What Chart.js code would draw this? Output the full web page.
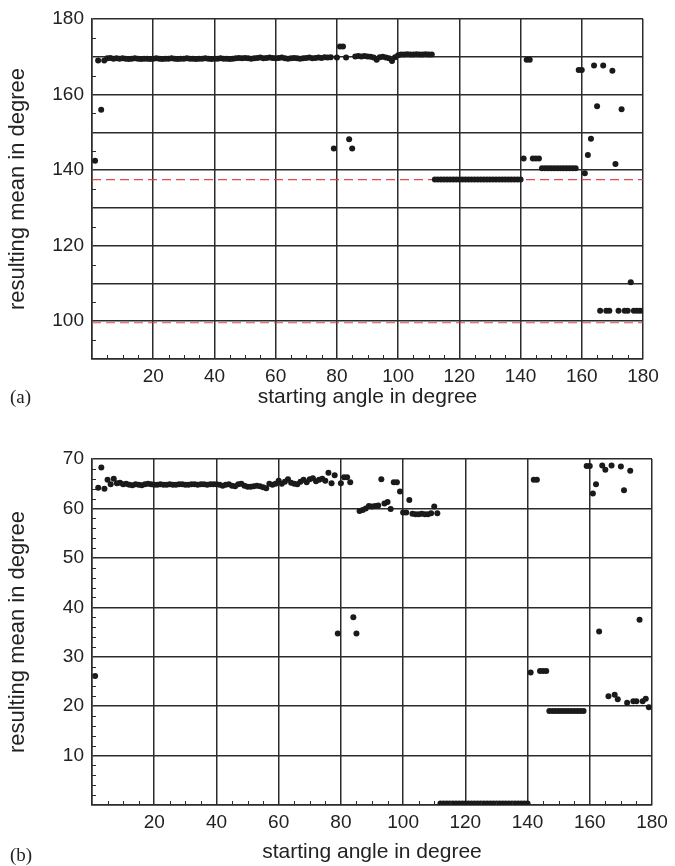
<!DOCTYPE html>
<html>
<head>
<meta charset="utf-8">
<script src="https://cdn.jsdelivr.net/npm/chart.js@4/dist/chart.umd.min.js"></script>
<style>
  body { margin: 0; width: 675px; height: 866px; background: #fff; position: relative; overflow: hidden; }
  .box { position: absolute; left: 0; width: 675px; }
  #boxA { top: 0; height: 415px; }
  #boxB { top: 430px; height: 436px; }
  .tag { position: absolute; left: 10px; font: 19px "Liberation Serif", serif; color: #222; }
</style>
</head>
<body>
<div id="boxA" class="box"><canvas id="chartA"></canvas></div>
<div id="boxB" class="box"><canvas id="chartB"></canvas></div>
<span class="tag" style="top:386px">(a)</span>
<span class="tag" style="top:844px">(b)</span>
<script>
// starting angles (degree)
const angles = [
  1,2,3,4,5,6,7,8,9,10,11,12,13,14,15,16,17,18,19,20,
  21,22,23,24,25,26,27,28,29,30,31,32,33,34,35,36,37,38,39,40,
  41,42,43,44,45,46,47,48,49,50,51,52,53,54,55,56,57,58,59,60,
  61,62,63,64,65,66,67,68,69,70,71,72,73,74,75,76,77,78,79,80,
  81,82,83,84,85,86,87,88,89,90,91,92,93,94,95,96,97,98,99,100,
  101,102,103,104,105,106,107,108,109,110,111,112,113,114,115,116,117,118,119,120,
  121,122,123,124,125,126,127,128,129,130,131,132,133,134,135,136,137,138,139,140,
  141,142,143,144,145,146,147,148,149,150,151,152,153,154,155,156,157,158,159,160,
  161,162,163,164,165,166,167,168,169,170,171,172,173,174,175,176,177,178,179,180
];

// (a) resulting mean
const meanA = [
  142.5,169.0,156.0,169.0,169.6,169.7,169.5,169.6,169.5,169.6,169.5,169.4,169.5,169.6,169.5,169.4,169.5,169.5,169.4,169.5,
  169.6,169.5,169.4,169.5,169.5,169.6,169.5,169.4,169.5,169.5,169.6,169.5,169.5,169.4,169.5,169.5,169.6,169.5,169.4,169.5,
  169.5,169.6,169.5,169.5,169.4,169.5,169.6,169.7,169.6,169.7,169.6,169.5,169.6,169.7,169.8,169.6,169.7,169.8,169.7,169.6,
  169.7,169.8,169.6,169.5,169.6,169.7,169.6,169.5,169.6,169.7,169.8,169.6,169.7,169.8,169.7,169.9,169.8,169.9,145.7,169.8,
  172.7,172.7,169.8,148.2,145.7,170.1,170.2,170.1,170.2,170.1,170.0,169.8,169.2,169.9,170.0,169.8,169.6,168.9,169.9,170.4,
  170.6,170.6,170.7,170.6,170.6,170.7,170.6,170.6,170.7,170.6,170.6,137.5,137.5,137.5,137.5,137.5,137.5,137.5,137.5,137.5,
  137.5,137.5,137.5,137.5,137.5,137.5,137.5,137.5,137.5,137.5,137.5,137.5,137.5,137.5,137.5,137.5,137.5,137.5,137.5,137.5,
  143.1,169.2,169.2,143.1,143.1,143.1,140.5,140.5,140.5,140.5,140.5,140.5,140.5,140.5,140.5,140.5,140.5,140.5,166.5,166.5,
  139.2,144.0,148.3,167.7,156.9,102.8,167.7,102.8,102.8,166.3,141.6,102.8,156.1,102.8,102.8,110.3,102.8,102.8,102.8,102.8
];
const refLinesA = [137.5, 99.6];

// (b) resulting mean
const meanB = [
  26.1,64.2,68.3,64.0,65.8,64.9,66.0,65.1,65.2,64.9,65.0,64.8,64.7,64.9,64.8,64.7,64.9,65.0,64.9,64.8,
  64.8,64.9,64.8,64.8,64.9,64.8,64.8,64.9,64.9,64.8,64.8,64.9,64.9,64.8,64.9,64.9,64.8,64.9,64.9,64.9,
  64.8,64.6,64.8,64.9,64.6,64.5,64.9,65.0,64.6,64.4,64.4,64.5,64.6,64.5,64.3,64.1,65.0,64.8,65.0,65.6,
  65.0,65.4,65.9,65.2,65.0,64.9,65.4,65.8,65.3,65.9,66.1,65.5,65.8,66.0,65.6,67.2,65.1,66.7,34.7,65.1,
  66.3,66.3,65.3,38.0,34.7,59.5,59.7,60.0,60.5,60.4,60.5,60.6,65.9,61.0,61.3,59.9,65.3,65.3,63.4,59.2,
  59.2,61.7,58.9,58.8,58.8,58.9,58.8,58.8,59.0,60.4,59.0,0.3,0.3,0.3,0.3,0.3,0.3,0.3,0.3,0.3,
  0.3,0.3,0.3,0.3,0.3,0.3,0.3,0.3,0.3,0.3,0.3,0.3,0.3,0.3,0.3,0.3,0.3,0.3,0.3,0.3,
  26.8,65.8,65.8,27.1,27.1,27.1,19.0,19.0,19.0,19.0,19.0,19.0,19.0,19.0,19.0,19.0,19.0,19.0,68.6,68.6,
  63.0,64.9,35.1,68.7,67.8,22.0,68.7,22.3,21.4,68.5,63.7,20.7,67.6,21.0,21.0,37.5,21.0,21.5,19.8,null
];

const FONT = "'Liberation Sans', Arial, sans-serif";
const INK = "#222";
const GRID = "#2b2b2b";

function toPoints(xs, ys) {
  const pts = [];
  xs.forEach((x, i) => {
    if (ys[i] !== null && ys[i] !== undefined) pts.push({ x: x, y: ys[i] });
  });
  return pts;
}

// small inward ticks on the left and bottom edges
const minorTicks = {
  id: "minorTicks",
  afterDraw(chart, args, opts) {
    const { ctx, chartArea, scales } = chart;
    const len = 4;
    ctx.save();
    ctx.strokeStyle = GRID;
    ctx.lineWidth = 1;
    ctx.beginPath();
    for (let v = scales.x.min; v <= scales.x.max; v += opts.xStep) {
      if (v % opts.xMajor === 0) continue;
      const px = Math.round(scales.x.getPixelForValue(v)) + 0.5;
      ctx.moveTo(px, chartArea.bottom);
      ctx.lineTo(px, chartArea.bottom - len);
    }
    for (let v = scales.y.min; v <= scales.y.max; v += opts.yStep) {
      if (v % opts.yMajor === 0) continue;
      const py = Math.round(scales.y.getPixelForValue(v)) + 0.5;
      ctx.moveTo(chartArea.left, py);
      ctx.lineTo(chartArea.left + len, py);
    }
    ctx.stroke();
    ctx.restore();
  }
};

function makeChart(id, cfg) {
  const datasets = [{
    data: toPoints(angles, cfg.values),
    pointRadius: 3,
    pointBackgroundColor: "#1a1a1a",
    pointBorderWidth: 0,
    showLine: false,
    order: 0
  }];
  cfg.refLines.forEach(r => {
    datasets.push({
      type: "line",
      data: [{ x: 0, y: r }, { x: 180, y: r }],
      borderColor: "rgba(222,55,55,0.9)",
      borderWidth: 1.2,
      borderDash: [9, 5],
      pointRadius: 0,
      showLine: true,
      order: 1
    });
  });

  return new Chart(document.getElementById(id), {
    type: "scatter",
    data: { datasets: datasets },
    plugins: [minorTicks],
    options: {
      responsive: true,
      maintainAspectRatio: false,
      animation: false,
      events: [],
      layout: { autoPadding: false, padding: cfg.padding },
      plugins: {
        legend: { display: false },
        tooltip: { enabled: false },
        minorTicks: cfg.minor
      },
      scales: {
        x: {
          type: "linear",
          min: 0,
          max: 180,
          afterFit: s => { s.height = cfg.xHeight; s.paddingLeft = 0; s.paddingRight = 0; },
          grid: { color: GRID, lineWidth: 1.5, drawTicks: false },
          border: { color: GRID, width: 1.5 },
          ticks: {
            stepSize: 20,
            autoSkip: false,
            maxRotation: 0,
            padding: 6,
            color: INK,
            font: { family: FONT, size: 19 },
            callback: v => (v === 0 ? "" : v)
          },
          title: {
            display: true,
            text: "starting angle in degree",
            color: INK,
            font: { family: FONT, size: 21 },
            padding: { top: 0, bottom: 0 }
          }
        },
        y: {
          type: "linear",
          min: cfg.yMin,
          max: cfg.yMax,
          afterFit: s => { s.width = 92; s.paddingTop = 0; s.paddingBottom = 0; },
          grid: { color: GRID, lineWidth: 1.5, drawTicks: false },
          border: { color: GRID, width: 1.5 },
          ticks: {
            stepSize: 10,
            autoSkip: false,
            padding: 8,
            color: INK,
            font: { family: FONT, size: 19 },
            callback: cfg.yLabel
          },
          title: {
            display: true,
            text: "resulting mean in degree",
            color: INK,
            font: { family: FONT, size: 22 },
            padding: { top: 5, bottom: 0 }
          }
        }
      }
    }
  });
}

makeChart("chartA", {
  values: meanA,
  refLines: refLinesA,
  yMin: 90,
  yMax: 180,
  yLabel: v => (v % 20 === 0 ? v : ""),
  padding: { top: 19, right: 32, bottom: 5, left: 0 },
  xHeight: 51,
  minor: { xStep: 5, xMajor: 20, yStep: 5, yMajor: 10 }
});

makeChart("chartB", {
  values: meanB,
  refLines: [],
  yMin: 0,
  yMax: 70,
  yLabel: v => (v === 0 ? "" : v),
  padding: { top: 29, right: 23, bottom: 1, left: 0 },
  xHeight: 60,
  minor: { xStep: 5, xMajor: 20, yStep: 2, yMajor: 10 }
});
</script>
</body>
</html>
